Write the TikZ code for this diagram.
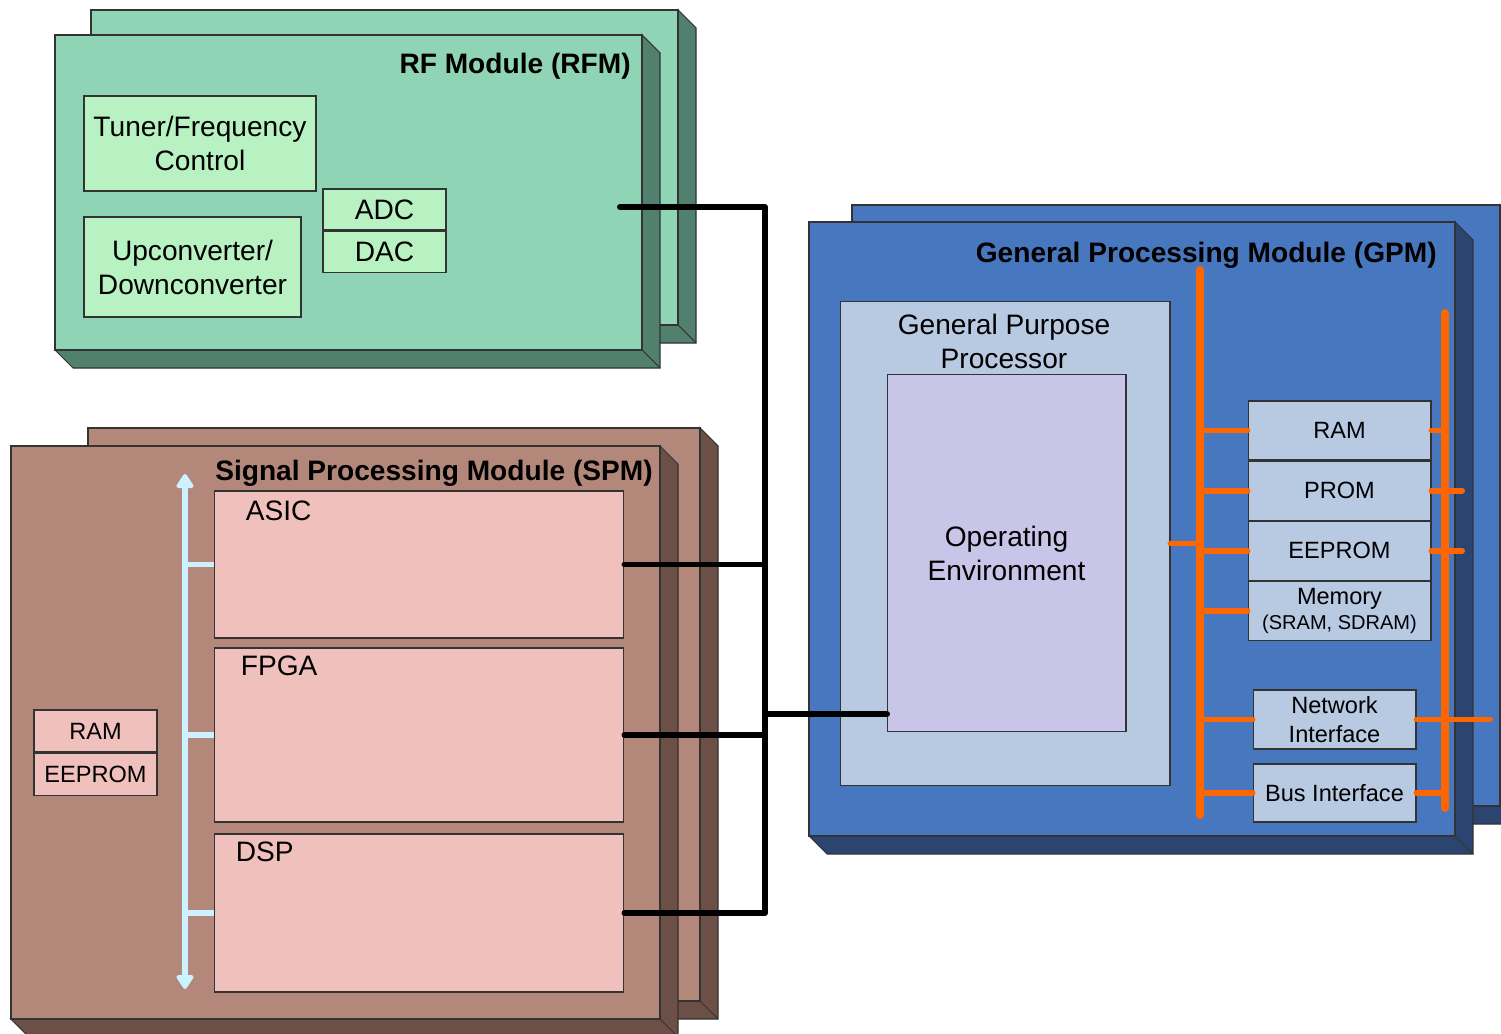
\documentclass[tikz,border=0pt]{standalone}
\usepackage{fontspec}
\setmainfont{Liberation Sans}
\usetikzlibrary{arrows.meta,positioning}
\definecolor{rfface}{HTML}{8FD5B5}
\definecolor{rfside}{HTML}{52806E}
\definecolor{rfin}{HTML}{B8F2C2}
\definecolor{spface}{HTML}{B4877B}
\definecolor{spside}{HTML}{6C4F47}
\definecolor{spin}{HTML}{F0C0BD}
\definecolor{gpface}{HTML}{4777BE}
\definecolor{gpside}{HTML}{2B4570}
\definecolor{gpin}{HTML}{B8C9E2}
\definecolor{oecol}{HTML}{C9C5E8}
\definecolor{buscol}{HTML}{FF6600}
\definecolor{lbuscol}{HTML}{CCF2FF}
% slab: x1,y1,x2,y2 of the front face, face colour, side colour
\newcommand\slab[6]{%
  \filldraw[fill=#6,draw=black!80,line width=0.6pt] (#3,#2) -- (#3+18,#2+18) -- (#3+18,#4+18)
    -- (#1+18,#4+18) -- (#1,#4) -- (#3,#4) -- cycle;
  \draw[black!80,line width=0.6pt] (#3,#4) -- (#3+18,#4+18);
  \filldraw[fill=#5,draw=black!80,line width=0.6pt] (#1,#2) rectangle (#3,#4);}

\begin{document}
\begin{tikzpicture}[x=0.02cm,y=-0.02cm,>=Stealth,
  box/.style={draw=black!80,line width=0.6pt,inner sep=0pt,align=center},
  big/.style={font=\fontsize{16}{19.3}\selectfont},
  small/.style={font=\fontsize{13.4}{16.4}\selectfont},
  title/.style={font=\fontsize{16}{19}\selectfont\bfseries,anchor=east,inner sep=0pt},
  wire/.style={line width=3.4pt,line cap=round,line join=round},
  sbus/.style={draw=lbuscol,line width=2.9pt},
  obus/.style={draw=buscol,line width=4.6pt,line cap=round},
  ostub/.style={draw=buscol,line width=3.4pt,line cap=round}]
  \useasboundingbox (0,0) rectangle (1501,1034);

  % RF module
  \slab{91}{10}{678}{325}{rfface}{rfside}
  \slab{55}{35}{642}{350}{rfface}{rfside}
  \node[title] at (631,66) {RF Module (RFM)};
  \node[box,big,fill=rfin,minimum width=4.64cm,minimum height=1.9cm] (tuner) at (200,143.5) {Tuner/Frequency\\Control};
  \node[box,big,fill=rfin,minimum width=4.34cm,minimum height=2cm] (updown) at (192.5,267) {Upconverter/\\Downconverter};
  \node[box,big,fill=rfin,minimum width=2.46cm,minimum height=0.82cm] (adc) at (384.5,209.5) {ADC};
  \node[box,big,fill=rfin,minimum width=2.46cm,minimum height=0.82cm,below=0pt of adc] (dac) {DAC};

  % SPM
  \slab{88}{428}{700}{1001}{spface}{spside}
  \slab{11}{446}{660}{1019}{spface}{spside}
  \node[title] at (653,473) {Signal Processing Module (SPM)};
  \node[box,fill=spin,minimum width=8.2cm,minimum height=2.94cm] (asic) at (419,564.5) {};
  \node[box,fill=spin,minimum width=8.2cm,minimum height=3.48cm] (fpga) at (419,735) {};
  \node[box,fill=spin,minimum width=8.2cm,minimum height=3.16cm] (dsp) at (419,913) {};
  \node[big,anchor=west,inner sep=0pt] at ([shift={(32,20)}]asic.north west) {ASIC};
  \node[big,anchor=west,inner sep=0pt] at ([shift={(27,18)}]fpga.north west) {FPGA};
  \node[big,anchor=west,inner sep=0pt] at ([shift={(22,18)}]dsp.north west) {DSP};
  \node[box,small,fill=spin,minimum width=2.46cm,minimum height=0.84cm] (sram) at (95.5,731) {RAM};
  \node[box,small,fill=spin,minimum width=2.46cm,minimum height=0.84cm,below=0pt of sram] (seeprom) {EEPROM};
  \coordinate (sbtop) at (185,474);
  \coordinate (sbbot) at (185,989);
  \draw[sbus,{Triangle[round,length=9pt,width=11pt]}-{Triangle[round,length=9pt,width=11pt]}] (sbtop) -- (sbbot);
  \foreach \c in {asic,fpga,dsp}
    \draw[sbus] (\c.west -| sbtop) -- (\c.west);

  % GPM
  \slab{852}{205}{1500}{806}{gpface}{gpside}
  \slab{809}{222}{1455}{836}{gpface}{gpside}
  \node[title] at (1437,255) {General Processing Module (GPM)};
  \node[box,fill=gpin,minimum width=6.6cm,minimum height=9.7cm] (gpp) at (1005,543.5) {};
  \node[big,align=center] at ([shift={(-1,41)}]gpp.north) {General Purpose\\Processor};
  \node[box,big,fill=oecol,minimum width=4.78cm,minimum height=7.16cm] (oe) at (1006.5,553) {Operating\\Environment};
  \node[box,small,fill=gpin,minimum width=3.66cm,minimum height=1.18cm] (mram) at (1339.5,430.5) {RAM};
  \node[box,small,fill=gpin,minimum width=3.66cm,minimum height=1.18cm,below=0pt of mram] (mprom) {PROM};
  \node[box,small,fill=gpin,minimum width=3.66cm,minimum height=1.18cm,below=0pt of mprom] (meeprom) {EEPROM};
  \node[box,small,fill=gpin,minimum width=3.66cm,minimum height=1.18cm,below=0pt of meeprom] (mmem)
    {Memory\\[-2pt]{\fontsize{11.4}{13}\selectfont (SRAM, SDRAM)}};
  \node[box,small,fill=gpin,minimum width=3.26cm,minimum height=1.18cm] (netif) at (1334.5,719.5) {Network\\Interface};
  \node[box,small,fill=gpin,minimum width=3.26cm,minimum height=1.16cm] (busif) at (1334.5,793) {Bus Interface};

  % orange buses
  \coordinate (lbtop) at (1200,270);
  \coordinate (lbbot) at (1200,815);
  \coordinate (rbtop) at (1445,313);
  \coordinate (rbbot) at (1445,808);
  \draw[obus] (lbtop) -- (lbbot);
  \draw[obus] (rbtop) -- (rbbot);
  \foreach \c in {mram,mprom,meeprom,mmem,netif,busif}
    \draw[ostub] (\c.west -| lbtop) -- (\c.west);
  \draw[ostub] (gpp.east) -- (gpp.east -| lbtop);
  \draw[ostub] (mram.east) -- (mram.east -| rbtop);
  \draw[ostub] (mprom.east) -- (mprom.east -| rbtop) -- ++(17,0);
  \draw[ostub] (meeprom.east) -- (meeprom.east -| rbtop) -- ++(17,0);
  \draw[ostub] (netif.east) -- (netif.east -| rbtop) -- ++(45,0);
  \draw[ostub] (busif.east) -- (busif.east -| rbtop);

  % black interconnect
  \coordinate (rfport) at (620,207);
  \coordinate (jtop) at (765,207);
  \coordinate (oeport) at (887,714);
  \draw[wire] (rfport) -- (jtop) |- (dsp.east);
  \draw[wire] (asic.east) -- (asic.east -| jtop);
  \draw[wire] (fpga.east) -- (fpga.east -| jtop);
  \draw[wire] (oeport -| jtop) -- (oeport);
\end{tikzpicture}
\end{document}
